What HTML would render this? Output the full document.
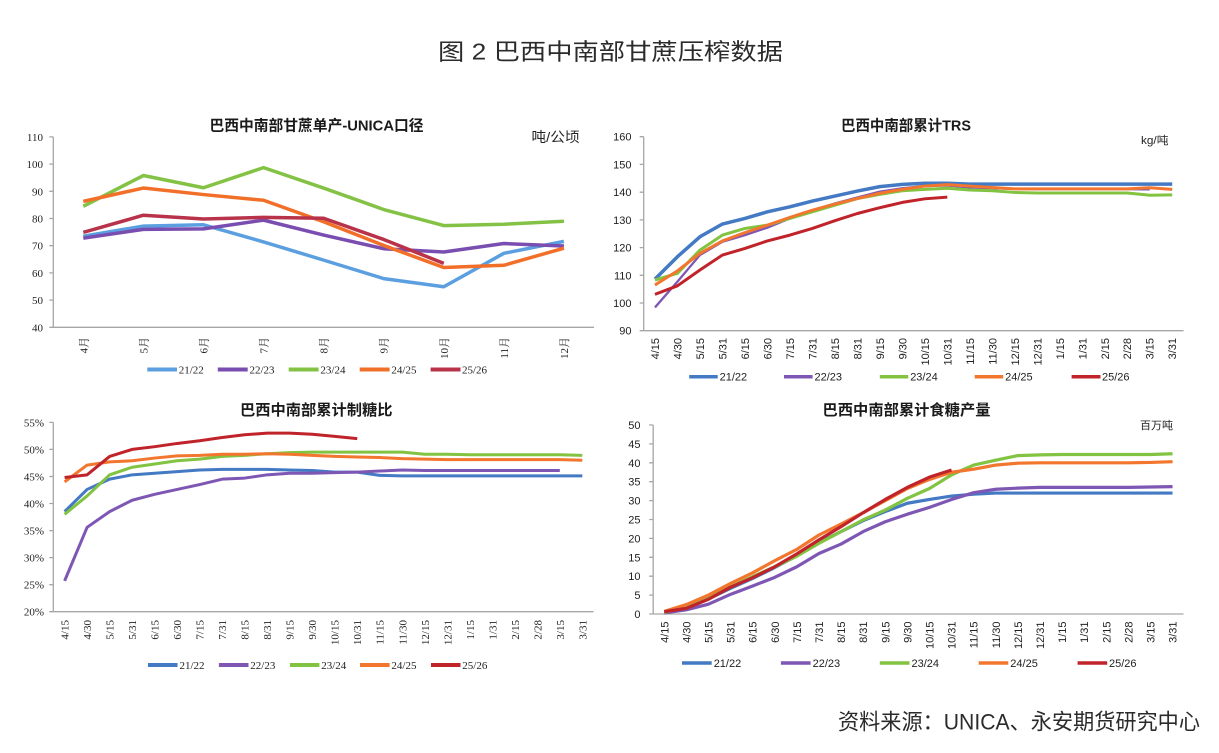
<!DOCTYPE html>
<html><head><meta charset="utf-8">
<style>
html,body{margin:0;padding:0;background:#fff;}
svg{display:block;}
.cjk{font-family:"Liberation Sans","Noto Sans CJK SC",sans-serif;}
.serif{font-family:"Liberation Serif","Noto Serif CJK SC",serif;font-size:11px;fill:#222;}
.sans{font-family:"Liberation Sans","Noto Sans CJK SC",sans-serif;font-size:11px;fill:#222;}
.ttl{font-family:"Liberation Sans","Noto Sans CJK SC",sans-serif;font-weight:bold;fill:#1a1a1a;}
.ax{stroke:#a6a6a6;stroke-width:1.3;fill:none;}
polyline{fill:none;stroke-linejoin:round;stroke-linecap:butt;vector-effect:non-scaling-stroke;}
</style></head>
<body>
<svg width="1219" height="753" viewBox="0 0 1219 753" xmlns="http://www.w3.org/2000/svg">
<rect width="1219" height="753" fill="#fff"/>
<text class="cjk" x="438" y="59.5" font-size="23" fill="#2b2b2b" textLength="345" lengthAdjust="spacingAndGlyphs">图 2 巴西中南部甘蔗压榨数据</text>
<text class="cjk" x="838" y="729.5" font-size="22" fill="#2b2b2b" textLength="362" lengthAdjust="spacingAndGlyphs">资料来源：UNICA、永安期货研究中心</text>

<!-- ============ CHART 1 ============ -->
<text class="ttl" x="209.5" y="130.5" font-size="15" textLength="214" lengthAdjust="spacingAndGlyphs">巴西中南部甘蔗单产-UNICA口径</text>
<text class="cjk" x="531.5" y="142" font-size="14" fill="#222" textLength="48" lengthAdjust="spacingAndGlyphs">吨/公顷</text>
<path class="ax" d="M53.3,136.9V327.3H594 M49.3,136.9H53.3 M49.3,164.1H53.3 M49.3,191.3H53.3 M49.3,218.5H53.3 M49.3,245.7H53.3 M49.3,272.9H53.3 M49.3,300.1H53.3 M49.3,327.3H53.3"/>
<g class="serif" text-anchor="end">
<text x="43" y="140.9">110</text><text x="43" y="168.1">100</text><text x="43" y="195.3">90</text><text x="43" y="222.5">80</text>
<text x="43" y="249.7">70</text><text x="43" y="276.9">60</text><text x="43" y="304.1">50</text><text x="43" y="331.3">40</text>
<text transform="translate(87.3,337) rotate(-90)">4月</text>
<text transform="translate(147.4,337) rotate(-90)">5月</text>
<text transform="translate(207.5,337) rotate(-90)">6月</text>
<text transform="translate(267.5,337) rotate(-90)">7月</text>
<text transform="translate(327.6,337) rotate(-90)">8月</text>
<text transform="translate(387.7,337) rotate(-90)">9月</text>
<text transform="translate(447.8,337) rotate(-90)">10月</text>
<text transform="translate(507.9,337) rotate(-90)">11月</text>
<text transform="translate(567.9,337) rotate(-90)">12月</text>
</g>
<g transform="translate(83.3,436.1) scale(60.08,-2.72)" stroke-width="3.5">
<polyline stroke="#5b9fe0" points="0,73.5 1,77.2 2,77.7 3,71.4 4,64.7 5,57.9 6,54.9 7,67.2 8,71.6"/>
<polyline stroke="#7a4db0" points="0,72.8 1,76 2,76.2 3,79.4 4,73.9 5,68.9 6,67.7 7,70.8 8,69.9"/>
<polyline stroke="#84c245" points="0,84.5 1,95.8 2,91.3 3,98.7 4,91.2 5,83.3 6,77.4 7,77.9 8,79"/>
<polyline stroke="#f26f2a" points="0,86.3 1,91.2 2,88.8 3,86.7 4,78.8 5,70.1 6,62 7,62.8 8,69.1"/>
<polyline stroke="#b8334a" points="0,74.9 1,81.2 2,79.8 3,80.4 4,80.1 5,72.3 6,63.5"/>
</g>
<g stroke-width="4">
<line x1="147.3" y1="369.5" x2="177" y2="369.5" stroke="#5b9fe0"/>
<line x1="217.8" y1="369.5" x2="247.7" y2="369.5" stroke="#7a4db0"/>
<line x1="288.7" y1="369.5" x2="318.6" y2="369.5" stroke="#84c245"/>
<line x1="359.7" y1="369.5" x2="389.6" y2="369.5" stroke="#f26f2a"/>
<line x1="430.6" y1="369.5" x2="460.5" y2="369.5" stroke="#b8334a"/>
</g>
<g class="serif">
<text x="178.7" y="373.5">21/22</text><text x="249.5" y="373.5">22/23</text><text x="320.4" y="373.5">23/24</text>
<text x="391.4" y="373.5">24/25</text><text x="462" y="373.5">25/26</text>
</g>

<!-- ============ CHART 2 ============ -->
<text class="ttl" x="841" y="130.5" font-size="15" textLength="130" lengthAdjust="spacingAndGlyphs">巴西中南部累计TRS</text>
<text class="sans" x="1141" y="144" textLength="27.5" lengthAdjust="spacingAndGlyphs">kg/吨</text>
<path class="ax" d="M643.7,136.7V330.7H1183.5 M639.7,136.7H643.7 M639.7,164.4H643.7 M639.7,192.2H643.7 M639.7,219.9H643.7 M639.7,247.6H643.7 M639.7,275.3H643.7 M639.7,303H643.7 M639.7,330.7H643.7"/>
<g class="sans" text-anchor="end">
<text x="631.5" y="140.7">160</text><text x="631.5" y="168.4">150</text><text x="631.5" y="196.2">140</text><text x="631.5" y="223.9">130</text>
<text x="631.5" y="251.6">120</text><text x="631.5" y="279.3">110</text><text x="631.5" y="307">100</text><text x="631.5" y="334.7">90</text>
<text transform="translate(659,338) rotate(-90)">4/15</text>
<text transform="translate(681.4,338) rotate(-90)">4/30</text>
<text transform="translate(703.9,338) rotate(-90)">5/15</text>
<text transform="translate(726.4,338) rotate(-90)">5/31</text>
<text transform="translate(748.9,338) rotate(-90)">6/15</text>
<text transform="translate(771.4,338) rotate(-90)">6/30</text>
<text transform="translate(793.9,338) rotate(-90)">7/15</text>
<text transform="translate(816.4,338) rotate(-90)">7/31</text>
<text transform="translate(838.9,338) rotate(-90)">8/15</text>
<text transform="translate(861.4,338) rotate(-90)">8/31</text>
<text transform="translate(883.9,338) rotate(-90)">9/15</text>
<text transform="translate(906.3,338) rotate(-90)">9/30</text>
<text transform="translate(928.8,338) rotate(-90)">10/15</text>
<text transform="translate(951.3,338) rotate(-90)">10/31</text>
<text transform="translate(973.8,338) rotate(-90)">11/15</text>
<text transform="translate(996.3,338) rotate(-90)">11/30</text>
<text transform="translate(1018.8,338) rotate(-90)">12/15</text>
<text transform="translate(1041.3,338) rotate(-90)">12/31</text>
<text transform="translate(1063.8,338) rotate(-90)">1/15</text>
<text transform="translate(1086.3,338) rotate(-90)">1/31</text>
<text transform="translate(1108.8,338) rotate(-90)">2/15</text>
<text transform="translate(1131.2,338) rotate(-90)">2/28</text>
<text transform="translate(1153.7,338) rotate(-90)">3/15</text>
<text transform="translate(1176.2,338) rotate(-90)">3/31</text>
</g>
<g transform="translate(654.95,580.1) scale(22.49,-2.771)">
<polyline stroke="#4479c4" stroke-width="3.5" points="0,108.6 1,116.7 2,123.9 3,128.5 4,130.5 5,132.9 6,134.7 7,136.8 8,138.6 9,140.4 10,142 11,142.8 12,143.2 13,143.2 14,142.9 15,142.9 16,142.9 17,142.9 18,142.9 19,142.9 20,142.9 21,142.9 22,142.9 23,142.9"/>
<polyline stroke="#7e57b5" stroke-width="2.3" points="0,98.4 1,107.7 2,117.3 3,122.1 4,124.5 5,127.2 6,130.5 7,133.5 8,135.9 9,138.1 10,140.2 11,141.4 12,142.2 13,142.4 14,141.7 15,141.4 16,141.2 17,141.1 18,141.1 19,141.1 20,141.1 21,141.1 22,141"/>
<polyline stroke="#82c341" stroke-width="3" points="0,108.3 1,110.7 2,119.1 3,124.5 4,126.9 5,128.1 6,130.5 7,132.9 8,135.3 9,137.7 10,139.2 11,140.5 12,141 13,141.4 14,140.8 15,140.5 16,139.9 17,139.7 18,139.7 19,139.7 20,139.7 21,139.7 22,138.9 23,139"/>
<polyline stroke="#f2762e" stroke-width="3" points="0,106.5 1,111.6 2,117.9 3,122.4 4,125.4 5,128.1 6,130.9 7,133.5 8,135.7 9,137.7 10,139.6 11,141 12,142.2 13,142.7 14,142.2 15,141.7 16,141.2 17,141.2 18,141.2 19,141.2 20,141.2 21,141.2 22,141.6 23,141"/>
<polyline stroke="#c0232a" stroke-width="3" points="0,103.1 1,106.2 2,111.9 3,117.3 4,119.7 5,122.4 6,124.5 7,126.9 8,129.7 9,132.3 10,134.4 11,136.3 12,137.6 13,138.2"/>
</g>
<g stroke-width="3.5">
<line x1="689.2" y1="376.7" x2="717.7" y2="376.7" stroke="#4479c4"/>
<line x1="784" y1="376.7" x2="812.6" y2="376.7" stroke="#7e57b5"/>
<line x1="879.8" y1="376.7" x2="908.3" y2="376.7" stroke="#82c341"/>
<line x1="974.7" y1="376.7" x2="1003.2" y2="376.7" stroke="#f2762e"/>
<line x1="1071.6" y1="376.7" x2="1100.5" y2="376.7" stroke="#c0232a"/>
</g>
<g class="sans">
<text x="719.6" y="380.7">21/22</text><text x="814.5" y="380.7">22/23</text><text x="910.2" y="380.7">23/24</text>
<text x="1005.1" y="380.7">24/25</text><text x="1102" y="380.7">25/26</text>
</g>

<!-- ============ CHART 3 ============ -->
<text class="ttl" x="240" y="415" font-size="15" textLength="152.5" lengthAdjust="spacingAndGlyphs">巴西中南部累计制糖比</text>
<path class="ax" d="M53.3,422.35V611.7H593.5 M49.3,422.35H53.3 M49.3,449.4H53.3 M49.3,476.5H53.3 M49.3,503.5H53.3 M49.3,530.6H53.3 M49.3,557.6H53.3 M49.3,584.7H53.3 M49.3,611.7H53.3"/>
<g class="serif" text-anchor="end">
<text x="44" y="426.3">55%</text><text x="44" y="453.4">50%</text><text x="44" y="480.5">45%</text><text x="44" y="507.5">40%</text>
<text x="44" y="534.6">35%</text><text x="44" y="561.6">30%</text><text x="44" y="588.7">25%</text><text x="44" y="615.7">20%</text>
<text transform="translate(68.6,620) rotate(-90)">4/15</text>
<text transform="translate(91.1,620) rotate(-90)">4/30</text>
<text transform="translate(113.6,620) rotate(-90)">5/15</text>
<text transform="translate(136.1,620) rotate(-90)">5/31</text>
<text transform="translate(158.6,620) rotate(-90)">6/15</text>
<text transform="translate(181.2,620) rotate(-90)">6/30</text>
<text transform="translate(203.7,620) rotate(-90)">7/15</text>
<text transform="translate(226.2,620) rotate(-90)">7/31</text>
<text transform="translate(248.7,620) rotate(-90)">8/15</text>
<text transform="translate(271.2,620) rotate(-90)">8/31</text>
<text transform="translate(293.7,620) rotate(-90)">9/15</text>
<text transform="translate(316.2,620) rotate(-90)">9/30</text>
<text transform="translate(338.7,620) rotate(-90)">10/15</text>
<text transform="translate(361.2,620) rotate(-90)">10/31</text>
<text transform="translate(383.7,620) rotate(-90)">11/15</text>
<text transform="translate(406.3,620) rotate(-90)">11/30</text>
<text transform="translate(428.8,620) rotate(-90)">12/15</text>
<text transform="translate(451.3,620) rotate(-90)">12/31</text>
<text transform="translate(473.8,620) rotate(-90)">1/15</text>
<text transform="translate(496.3,620) rotate(-90)">1/31</text>
<text transform="translate(518.8,620) rotate(-90)">2/15</text>
<text transform="translate(541.3,620) rotate(-90)">2/28</text>
<text transform="translate(563.8,620) rotate(-90)">3/15</text>
<text transform="translate(586.3,620) rotate(-90)">3/31</text>
</g>
<g transform="translate(64.6,719.9) scale(22.51,-5.41)" stroke-width="3">
<polyline stroke="#4479c4" points="0,38.5 1,42.6 2,44.5 3,45.3 4,45.6 5,45.9 6,46.2 7,46.3 8,46.3 9,46.3 10,46.2 11,46.1 12,45.8 13,45.8 14,45.2 15,45.1 16,45.1 17,45.1 18,45.1 19,45.1 20,45.1 21,45.1 22,45.1 23,45.1"/>
<polyline stroke="#7e57b5" points="0,25.7 1,35.6 2,38.5 3,40.6 4,41.7 5,42.6 6,43.5 7,44.5 8,44.7 9,45.3 10,45.6 11,45.6 12,45.7 13,45.8 14,46 15,46.2 16,46.1 17,46.1 18,46.1 19,46.1 20,46.1 21,46.1 22,46.1"/>
<polyline stroke="#82c341" points="0,38 1,41.4 2,45.3 3,46.7 4,47.3 5,47.9 6,48.2 7,48.7 8,48.9 9,49.2 10,49.4 11,49.5 12,49.5 13,49.5 14,49.5 15,49.5 16,49.1 17,49.1 18,49 19,49 20,49 21,49 22,49 23,48.9"/>
<polyline stroke="#f2762e" points="0,44 1,47.1 2,47.7 3,47.9 4,48.4 5,48.8 6,48.9 7,49.1 8,49.1 9,49.2 10,49.1 11,48.9 12,48.7 13,48.6 14,48.5 15,48.3 16,48.2 17,48.1 18,48.1 19,48.1 20,48.1 21,48.1 22,48.1 23,48"/>
<polyline stroke="#c0232a" points="0,44.8 1,45.3 2,48.7 3,50 4,50.5 5,51.1 6,51.6 7,52.2 8,52.7 9,53 10,53 11,52.8 12,52.4 13,52"/>
</g>
<g stroke-width="4">
<line x1="148" y1="665" x2="177.5" y2="665" stroke="#4479c4"/>
<line x1="218.9" y1="665" x2="248.5" y2="665" stroke="#7e57b5"/>
<line x1="289.9" y1="665" x2="319.4" y2="665" stroke="#82c341"/>
<line x1="360" y1="665" x2="389.6" y2="665" stroke="#f2762e"/>
<line x1="431" y1="665" x2="460.5" y2="665" stroke="#c0232a"/>
</g>
<g class="serif">
<text x="179.5" y="669">21/22</text><text x="250.3" y="669">22/23</text><text x="321.2" y="669">23/24</text>
<text x="391.4" y="669">24/25</text><text x="462.3" y="669">25/26</text>
</g>

<!-- ============ CHART 4 ============ -->
<text class="ttl" x="822.5" y="415" font-size="15" textLength="168" lengthAdjust="spacingAndGlyphs">巴西中南部累计食糖产量</text>
<text class="sans" x="1140" y="429" textLength="33" lengthAdjust="spacingAndGlyphs">百万吨</text>
<path class="ax" d="M653.2,425V614H1183.5 M649.2,425H653.2 M649.2,443.9H653.2 M649.2,462.8H653.2 M649.2,481.7H653.2 M649.2,500.6H653.2 M649.2,519.5H653.2 M649.2,538.4H653.2 M649.2,557.3H653.2 M649.2,576.2H653.2 M649.2,595.1H653.2 M649.2,614H653.2"/>
<g class="sans" text-anchor="end">
<text x="640.5" y="429">50</text><text x="640.5" y="447.9">45</text><text x="640.5" y="466.8">40</text><text x="640.5" y="485.7">35</text>
<text x="640.5" y="504.6">30</text><text x="640.5" y="523.5">25</text><text x="640.5" y="542.4">20</text><text x="640.5" y="561.3">15</text>
<text x="640.5" y="580.2">10</text><text x="640.5" y="599.1">5</text><text x="640.5" y="618">0</text>
<text transform="translate(668.3,621.5) rotate(-90)">4/15</text>
<text transform="translate(690.4,621.5) rotate(-90)">4/30</text>
<text transform="translate(712.5,621.5) rotate(-90)">5/15</text>
<text transform="translate(734.6,621.5) rotate(-90)">5/31</text>
<text transform="translate(756.7,621.5) rotate(-90)">6/15</text>
<text transform="translate(778.8,621.5) rotate(-90)">6/30</text>
<text transform="translate(800.9,621.5) rotate(-90)">7/15</text>
<text transform="translate(823,621.5) rotate(-90)">7/31</text>
<text transform="translate(845.1,621.5) rotate(-90)">8/15</text>
<text transform="translate(867.2,621.5) rotate(-90)">8/31</text>
<text transform="translate(889.3,621.5) rotate(-90)">9/15</text>
<text transform="translate(911.4,621.5) rotate(-90)">9/30</text>
<text transform="translate(933.5,621.5) rotate(-90)">10/15</text>
<text transform="translate(955.6,621.5) rotate(-90)">10/31</text>
<text transform="translate(977.7,621.5) rotate(-90)">11/15</text>
<text transform="translate(999.8,621.5) rotate(-90)">11/30</text>
<text transform="translate(1021.9,621.5) rotate(-90)">12/15</text>
<text transform="translate(1044,621.5) rotate(-90)">12/31</text>
<text transform="translate(1066.1,621.5) rotate(-90)">1/15</text>
<text transform="translate(1088.2,621.5) rotate(-90)">1/31</text>
<text transform="translate(1110.3,621.5) rotate(-90)">2/15</text>
<text transform="translate(1132.4,621.5) rotate(-90)">2/28</text>
<text transform="translate(1154.5,621.5) rotate(-90)">3/15</text>
<text transform="translate(1176.6,621.5) rotate(-90)">3/31</text>
</g>
<g transform="translate(664.25,614) scale(22.1,-3.78)" stroke-width="3.2">
<polyline stroke="#4479c4" points="0,0.5 1,1.8 2,4 3,6.8 4,9.4 5,12.3 6,15.4 7,18.9 8,21.8 9,24.7 10,27.1 11,29.3 12,30.3 13,31.2 14,31.7 15,32 16,32 17,32 18,32 19,32 20,32 21,32 22,32 23,32"/>
<polyline stroke="#7e57b5" points="0,0.3 1,1.1 2,2.6 3,5.2 4,7.4 5,9.7 6,12.5 7,16 8,18.5 9,21.8 10,24.4 11,26.4 12,28.2 13,30.3 14,32.1 15,33 16,33.3 17,33.5 18,33.5 19,33.5 20,33.5 21,33.5 22,33.6 23,33.7"/>
<polyline stroke="#82c341" points="0,0.4 1,1.9 2,4.6 3,7.2 4,9.9 5,12.5 6,15.3 7,18.7 8,21.8 9,24.9 10,27.5 11,30.6 12,33.2 13,36.8 14,39.4 15,40.7 16,41.9 17,42.1 18,42.2 19,42.2 20,42.2 21,42.2 22,42.2 23,42.4"/>
<polyline stroke="#f2762e" points="0,0.7 1,2.5 2,5 3,8.1 4,10.9 5,14.1 6,17.1 7,20.9 8,23.8 9,26.8 10,30 11,33.2 12,35.6 13,37.5 14,38.3 15,39.4 16,39.9 17,40 18,40 19,40 20,40 21,40 22,40.1 23,40.3"/>
<polyline stroke="#c0232a" points="0,0.6 1,1.5 2,3.9 3,7.1 4,9.6 5,12.5 6,15.9 7,19.6 8,23.1 9,26.8 10,30.3 11,33.5 12,36.2 13,38.1"/>
</g>
<g stroke-width="3.5">
<line x1="682" y1="663" x2="711.7" y2="663" stroke="#4479c4"/>
<line x1="780.9" y1="663" x2="810.6" y2="663" stroke="#7e57b5"/>
<line x1="879.8" y1="663" x2="909.5" y2="663" stroke="#82c341"/>
<line x1="978.7" y1="663" x2="1008.3" y2="663" stroke="#f2762e"/>
<line x1="1077.6" y1="663" x2="1107.2" y2="663" stroke="#c0232a"/>
</g>
<g class="sans">
<text x="713.7" y="667">21/22</text><text x="812.6" y="667">22/23</text><text x="911.5" y="667">23/24</text>
<text x="1010.3" y="667">24/25</text><text x="1109" y="667">25/26</text>
</g>
</svg>
</body></html>
